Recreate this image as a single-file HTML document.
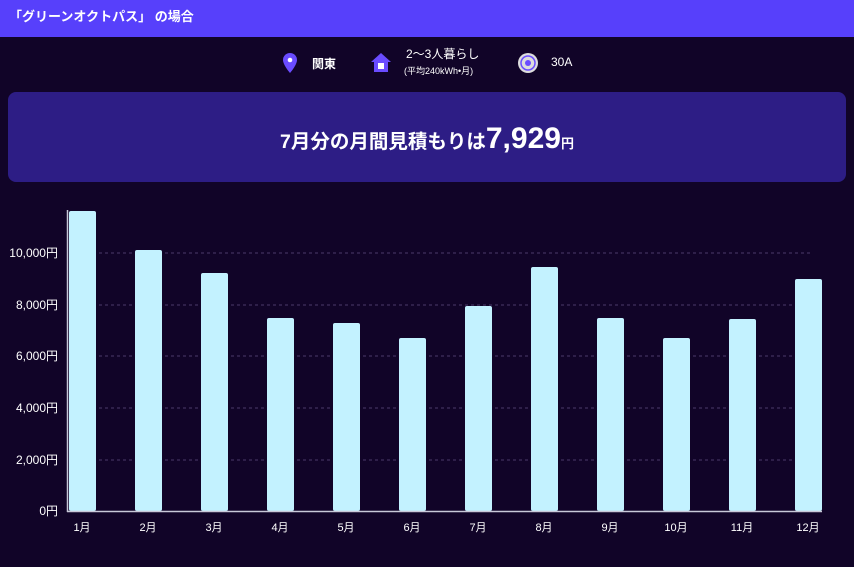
<!DOCTYPE html>
<html><head><meta charset="utf-8"><style>
body{margin:0;width:854px;height:567px;background:#110428;font-family:"Liberation Sans","Noto Sans CJK JP",sans-serif;color:#fff;position:relative;overflow:hidden}
.hd{position:absolute;left:0;top:0;width:854px;height:37px;background:#5740fb;font-weight:bold;font-size:13px;line-height:33px;padding-left:9px;box-sizing:border-box}
.t{position:absolute;font-size:12px}
.box{position:absolute;left:8px;top:92px;width:838px;height:90px;background:#2d1d85;border-radius:8px;text-align:center;line-height:94px;font-weight:bold;font-size:19.5px}
</style></head><body>
<div class="hd">「グリーンオクトパス」 の場合</div>
<svg style="position:absolute;left:281px;top:52px" width="18" height="22"><path d="M9 1a7 7 0 0 1 7 7c0 5-7 13-7 13S2 13 2 8a7 7 0 0 1 7-7z" fill="#6a4cff"/><circle cx="9" cy="8" r="2.3" fill="#fff"/></svg>
<div class="t" style="left:312px;top:55px;font-weight:bold">関東</div>
<svg style="position:absolute;left:370px;top:52px" width="22" height="22"><path d="M11 1L1 10h3v10h14V10h3z" fill="#6a4cff"/><rect x="8" y="11" width="6" height="6" fill="#fff"/></svg>
<div class="t" style="left:406px;top:45px">2〜3人暮らし</div>
<div class="t" style="left:404px;top:64px;font-size:9px">(平均240kWh•月)</div>
<svg style="position:absolute;left:517px;top:52px" width="22" height="22"><circle cx="11" cy="11" r="10" fill="#ddd"/><circle cx="11" cy="11" r="7" fill="none" stroke="#6a4cff" stroke-width="1.5"/><circle cx="11" cy="11" r="3" fill="#6a4cff"/></svg>
<div class="t" style="left:551px;top:55px">30A</div>
<div class="box">7月分の月間見積もりは<span style="font-size:30px">7,929</span><span style="font-size:13px">円</span></div>
<svg style="position:absolute;left:0;top:0" width="854" height="567">
<g stroke="#4a3a6a" stroke-dasharray="3,3" stroke-width="1">
<line x1="69" x2="812" y1="253" y2="253"/><line x1="69" x2="812" y1="305" y2="305"/><line x1="69" x2="812" y1="356" y2="356"/><line x1="69" x2="812" y1="408" y2="408"/><line x1="69" x2="812" y1="460" y2="460"/></g>
<g fill="#c3f2ff">
<rect x="69" y="211" width="27" height="300" rx="2"/><rect x="135" y="250" width="27" height="261" rx="2"/><rect x="201" y="273" width="27" height="238" rx="2"/><rect x="267" y="318" width="27" height="193" rx="2"/><rect x="333" y="323" width="27" height="188" rx="2"/><rect x="399" y="338" width="27" height="173" rx="2"/><rect x="465" y="306" width="27" height="205" rx="2"/><rect x="531" y="267" width="27" height="244" rx="2"/><rect x="597" y="318" width="27" height="193" rx="2"/><rect x="663" y="338" width="27" height="173" rx="2"/><rect x="729" y="319" width="27" height="192" rx="2"/><rect x="795" y="279" width="27" height="232" rx="2"/></g>
<line x1="67.5" y1="210" x2="67.5" y2="512" stroke="#c8c8d8" stroke-width="1.5"/>
<line x1="67" y1="511.5" x2="822" y2="511.5" stroke="#c8c8d8" stroke-width="1.5"/>
<g fill="#fff" font-size="12" text-anchor="end" font-family="Liberation Sans,Noto Sans CJK JP,sans-serif">
<text x="58" y="257">10,000円</text><text x="58" y="309">8,000円</text><text x="58" y="360">6,000円</text><text x="58" y="412">4,000円</text><text x="58" y="464">2,000円</text><text x="58" y="515">0円</text></g>
<g fill="#fff" font-size="11" text-anchor="middle" font-family="Liberation Sans,Noto Sans CJK JP,sans-serif">
<text x="82" y="531">1月</text><text x="148" y="531">2月</text><text x="214" y="531">3月</text><text x="280" y="531">4月</text><text x="346" y="531">5月</text><text x="412" y="531">6月</text><text x="478" y="531">7月</text><text x="544" y="531">8月</text><text x="610" y="531">9月</text><text x="676" y="531">10月</text><text x="742" y="531">11月</text><text x="808" y="531">12月</text></g>
</svg>
</body></html>
